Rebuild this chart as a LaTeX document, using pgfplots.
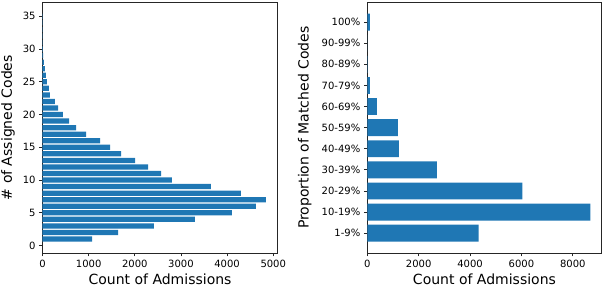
\documentclass[border=0pt]{standalone}
\usepackage{pgfplots}
\pgfplotsset{compat=1.18}
\usepackage{fontspec}
\setmainfont{DejaVu Sans}
\definecolor{tabblue}{HTML}{1F77B4}
\begin{document}
\begin{tikzpicture}[x=1pt,y=1pt]
\useasboundingbox (0,0) rectangle (602,286);
\pgfplotsset{
  mystyle/.style={
    scale only axis,
    xbar,
    bar width=0.8,
    axis line style={line width=0.8pt, color=black!85},
    tick align=outside,
    tick pos=left,
    major tick length=3.5pt,
    every tick/.style={line width=0.8pt, color=black!85},
    ticklabel style={font=\fontsize{10}{12}\selectfont, inner sep=0pt, outer sep=0pt},
    xticklabel style={yshift=-3.5pt},
    yticklabel style={xshift=-3.5pt},
    label style={font=\fontsize{14}{16}\selectfont, inner sep=0pt, outer sep=0pt},
    /pgf/number format/assume math mode=true,
    /pgf/number format/1000 sep={},
    scaled x ticks=false,
    width=235pt, height=250.7pt,
    anchor=south west,
    xlabel style={at={(axis description cs:0.5,-0.1237)}, anchor=base},
  }
}
\begin{axis}[mystyle,
  at={(42.5pt,33pt)},
  xmin=0, xmax=5092, ymin=-1.14, ymax=37.14,
  xtick={0,1000,2000,3000,4000,5000},
  ytick={0,5,10,15,20,25,30,35},
  xlabel={Count of Admissions},
  ylabel={\# of Assigned Codes},
  ylabel style={at={(axis description cs:-0.1298,0.5)}, anchor=base},
]
\addplot[fill=tabblue, draw=none] coordinates {
(1075,1) (1636,2) (2415,3) (3303,4) (4105,5) (4625,6) (4841,7) (4300,8)
(3650,9) (2805,10) (2569,11) (2287,12) (2005,13) (1702,14) (1463,15)
(1246,16) (945,17) (729,18) (577,19) (444,20) (336,21) (270,22) (160,23)
(140,24) (94,25) (72,26) (51,27) (29,28) (14,29) (7,30) (4,31) (2,32)
(1,33) (1,34) (1,35)
};
\end{axis}
\begin{axis}[mystyle,
  at={(367.3pt,33pt)},
  width=234.3pt,
  xmin=0, xmax=9120, ymin=-0.94, ymax=10.94,
  xtick={0,2000,4000,6000,8000},
  ytick={0,1,2,3,4,5,6,7,8,9,10},
  yticklabels={1-9\%,10-19\%,20-29\%,30-39\%,40-49\%,50-59\%,60-69\%,70-79\%,80-89\%,90-99\%,100\%},
  xlabel={Count of Admissions},
  ylabel={Proportion of Matched Codes},
  ylabel style={at={(axis description cs:-0.2501,0.5)}, anchor=base},
]
\addplot[fill=tabblue, draw=none] coordinates {
(4337,0) (8686,1) (6032,2) (2706,3) (1230,4) (1191,5) (375,6) (104,7)
(15,8) (5,9) (104,10)
};
\end{axis}
\end{tikzpicture}
\end{document}
